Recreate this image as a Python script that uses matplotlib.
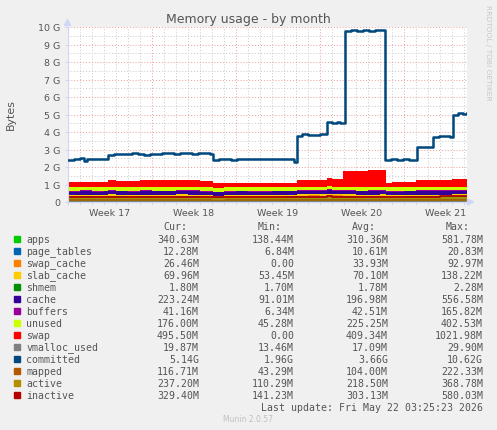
import numpy as np
import matplotlib.pyplot as plt
from matplotlib.patches import Rectangle, Polygon

# time in days since start of week 17
t = [-0.1, 1, 2, 3, 3.3, 4, 5, 6, 7, 8, 9, 10, 11, 12.1, 13, 14, 15, 16, 17, 18,
     19.1, 20, 21, 21.6, 22, 22.9, 24, 25, 26, 26.5, 27, 28, 29, 30, 31, 32, 33.25]

# stacked areas, MiB
apps = [305, 320, 290, 310, 330, 315, 300, 325, 310, 295, 335, 318, 302, 280, 295, 310, 300, 288, 305, 312,
        320, 335, 328, 340, 330, 315, 300, 310, 322, 290, 300, 312, 325, 318, 330, 340, 340]
page_tables = [10, 11, 10, 10, 11, 11, 10, 11, 10, 11, 12, 10, 11, 9, 10, 10, 11, 10, 10, 11,
               11, 12, 11, 12, 11, 11, 10, 11, 11, 10, 10, 11, 11, 12, 12, 12, 12]
swap_cache = [30, 35, 28, 40, 38, 33, 36, 30, 42, 35, 31, 38, 34, 20, 25, 30, 28, 32, 35, 30,
              40, 38, 36, 45, 42, 50, 48, 45, 40, 25, 22, 28, 30, 27, 25, 26, 26]
slab_cache = [70, 71, 69, 72, 70, 71, 70, 69, 72, 70, 71, 70, 70, 68, 69, 70, 70, 71, 69, 70,
              71, 72, 70, 73, 71, 72, 70, 71, 70, 68, 69, 70, 70, 71, 70, 70, 70]
shmem = [1.8, 1.7, 1.8, 1.8, 1.9, 1.8, 1.7, 1.8, 1.8, 1.8, 1.7, 1.8, 1.8, 1.7, 1.8, 1.8, 1.8, 1.9, 1.8, 1.8,
         1.8, 1.7, 1.8, 1.8, 1.8, 1.9, 1.8, 1.8, 1.7, 1.8, 1.8, 1.8, 1.8, 1.8, 1.8, 1.8, 1.8]
cache = [190, 205, 198, 185, 210, 200, 195, 208, 190, 202, 198, 205, 192, 180, 188, 195, 200, 190, 198, 205,
         200, 210, 205, 215, 208, 190, 185, 195, 200, 185, 190, 198, 205, 210, 215, 223, 223]
buffers = [40, 42, 45, 38, 43, 41, 44, 40, 42, 45, 39, 43, 41, 36, 40, 42, 44, 40, 43, 41,
           45, 44, 42, 46, 43, 40, 42, 41, 44, 38, 40, 42, 41, 43, 42, 41, 41]
unused = [220, 210, 235, 225, 200, 215, 225, 210, 220, 230, 205, 212, 225, 245, 235, 225, 230, 240, 225, 215,
          205, 190, 200, 180, 190, 210, 225, 215, 205, 250, 245, 230, 215, 210, 195, 176, 176]
swap = [290, 285, 295, 290, 370, 365, 372, 368, 375, 370, 366, 372, 370, 250, 252, 248, 255, 250, 252, 250,
        390, 392, 388, 470, 472, 945, 960, 955, 950, 270, 272, 268, 370, 372, 368, 450, 495]

# lines, MiB
vmalloc_used = [16, 17, 18, 16, 17, 18, 17, 16, 18, 17, 17, 16, 18, 15, 16, 17, 17, 18, 16, 17,
                18, 17, 19, 18, 17, 18, 17, 16, 18, 16, 17, 17, 18, 19, 18, 20, 20]
mapped = [100, 105, 98, 110, 104, 99, 108, 102, 106, 100, 112, 103, 98, 90, 95, 100, 104, 98, 102, 100,
          108, 110, 105, 112, 108, 104, 100, 106, 102, 95, 98, 104, 110, 112, 115, 117, 117]
active = [210, 222, 215, 230, 218, 212, 225, 208, 220, 228, 215, 222, 210, 195, 205, 212, 218, 210, 220, 215,
          225, 230, 222, 235, 228, 220, 210, 218, 225, 205, 210, 218, 228, 232, 235, 237, 237]
inactive = [295, 310, 300, 318, 305, 298, 312, 300, 308, 315, 302, 310, 298, 270, 285, 295, 300, 290, 305, 298,
            312, 320, 315, 325, 318, 310, 300, 308, 315, 285, 292, 300, 315, 320, 325, 329, 329]

# committed, GiB
committed_t = [-0.1, 0.5, 1.0, 1.3, 1.6, 2.1, 2.6, 3.0,
               3.3, 3.8, 4.3, 4.8, 5.3, 5.8, 6.3, 6.8, 7.3, 7.8, 8.3, 8.8, 9.3, 9.8, 10.3, 10.8, 11.3, 11.8,
               12.1, 12.6, 13.1, 13.6, 14.1, 14.6, 15.1, 15.6, 16.1, 16.6, 17.1, 17.6, 18.1, 18.6, 18.85,
               19.06, 19.5, 20.0, 20.5, 21.0,
               21.6, 22.0, 22.4, 22.7,
               23.1, 23.6, 24.1, 24.6, 25.1, 25.6, 26.0,
               26.4, 26.9, 27.4, 27.9, 28.4, 28.8,
               29.06, 29.6, 30.0,
               30.4, 30.9, 31.4, 31.8,
               32.06, 32.5, 32.9, 33.25]
committed = [2.42, 2.47, 2.50, 2.36, 2.45, 2.48, 2.44, 2.46,
             2.68, 2.74, 2.77, 2.72, 2.78, 2.76, 2.70, 2.73, 2.75, 2.78, 2.80, 2.76, 2.82, 2.78, 2.74, 2.80, 2.78, 2.76,
             2.40, 2.43, 2.46, 2.42, 2.45, 2.44, 2.47, 2.43, 2.45, 2.48, 2.44, 2.46, 2.45, 2.43, 2.30,
             3.75, 3.87, 3.85, 3.82, 3.88,
             4.55, 4.52, 4.58, 4.50,
             9.75, 9.80, 9.78, 9.82, 9.79, 9.84, 9.80,
             2.42, 2.44, 2.40, 2.43, 2.38, 2.42,
             3.12, 3.14, 3.13,
             3.72, 3.77, 3.75, 3.73,
             5.00, 5.10, 5.05, 5.08]

week_labels = ['Week 17', 'Week 18', 'Week 19', 'Week 20', 'Week 21']

legend_names = ['apps', 'page_tables', 'swap_cache', 'slab_cache', 'shmem', 'cache', 'buffers',
                'unused', 'swap', 'vmalloc_used', 'committed', 'mapped', 'active', 'inactive']
legend_colors = ['#00CC00', '#0066B3', '#FF8000', '#FFCC00', '#008F00', '#330099', '#990099',
                 '#CCFF00', '#FF0000', '#808080', '#00487D', '#B35A00', '#B38F00', '#B30000']
cur_vals = ['340.63M', '12.28M', '26.46M', '69.96M', '1.80M', '223.24M', '41.16M',
            '176.00M', '495.50M', '19.87M', '5.14G', '116.71M', '237.20M', '329.40M']
min_vals = ['138.44M', '6.84M', '0.00', '53.45M', '1.70M', '91.01M', '6.34M',
            '45.28M', '0.00', '13.46M', '1.96G', '43.29M', '110.29M', '141.23M']
avg_vals = ['310.36M', '10.61M', '33.93M', '70.10M', '1.78M', '196.98M', '42.51M',
            '225.25M', '409.34M', '17.09M', '3.66G', '104.00M', '218.50M', '303.13M']
max_vals = ['581.78M', '20.83M', '92.97M', '138.22M', '2.28M', '556.58M', '165.82M',
            '402.53M', '1021.98M', '29.90M', '10.62G', '222.33M', '368.78M', '580.03M']

FONT = '#555555'
AXIS = '#CFD6F8'

fig = plt.figure(figsize=(4.97, 4.31), dpi=100, facecolor='#F0F0F0')
ax = fig.add_axes([67.5 / 497, (431 - 203) / 431, (466.7 - 67.5) / 497, 175 / 431])
ax.set_facecolor('white')
ax.set_xlim(-0.04, 33.22)
ax.set_ylim(0, 10)

# grid
for d in range(0, 34):
    ax.axvline(d, color='#EE9A9A' if d % 7 == 0 else '#C8C8C8', ls=(0, (1, 2)), lw=0.7, zorder=0.5)
for g in np.arange(0.5, 10.01, 0.5):
    ax.axhline(g, color='#EE9A9A' if g % 1 == 0 else '#C8C8C8', ls=(0, (1, 2)), lw=0.7, zorder=0.5)

stacked = [(apps, '#00CC00'), (page_tables, '#0066B3'), (swap_cache, '#FF8000'), (slab_cache, '#FFCC00'),
           (shmem, '#008F00'), (cache, '#330099'), (buffers, '#990099'), (unused, '#CCFF00'), (swap, '#FF0000')]
bottom = np.zeros(len(t))
for vals, col in stacked:
    top = bottom + np.array(vals) / 1024
    ax.fill_between(t, bottom, top, step='post', color=col, lw=0, zorder=1)
    bottom = top

for vals, col in [(vmalloc_used, '#808080'), (mapped, '#B35A00'), (active, '#B38F00'), (inactive, '#B30000')]:
    ax.plot(t, np.array(vals) / 1024, drawstyle='steps-post', color=col, lw=1.3, zorder=2)
ax.plot(committed_t, committed, drawstyle='steps-post', color='#00487D', lw=1.8, zorder=3)

ax.set_yticks(range(0, 11))
ax.set_yticklabels(['0'] + ['%d G' % i for i in range(1, 11)])
ax.set_xticks([3.5, 10.5, 17.5, 24.5, 31.5])
ax.set_xticklabels(week_labels)
ax.set_xticks(range(0, 34), minor=True)
ax.tick_params(axis='x', which='major', length=0, pad=4, labelsize=6.8, labelcolor=FONT)
ax.tick_params(axis='x', which='minor', length=2, color='#D4D4D4', direction='out')
ax.tick_params(axis='y', length=2, color=AXIS, pad=3, labelsize=6.8, labelcolor=FONT)
for s in ['top', 'right']:
    ax.spines[s].set_visible(False)
for s in ['left', 'bottom']:
    ax.spines[s].set_color(AXIS)
    ax.spines[s].set_linewidth(0.8)

# overlay in pixel coordinates
ov = fig.add_axes([0, 0, 1, 1])
ov.set_xlim(0, 497)
ov.set_ylim(431, 0)
ov.axis('off')
ov.patch.set_alpha(0)

ov.add_patch(Polygon([(64.5, 26.5), (70.5, 26.5), (67.5, 20.5)], closed=True, color=AXIS))
ov.add_patch(Polygon([(467.5, 200), (467.5, 206), (473.5, 203)], closed=True, color=AXIS))

ov.text(248.3, 19.3, 'Memory usage - by month', ha='center', va='center', fontsize=9, color=FONT)
ov.text(10.5, 114.5, 'Bytes', ha='center', va='center', rotation=90, fontsize=7.9, color=FONT)
ov.text(488, 53, 'RRDTOOL / TOBI OETIKER', ha='center', va='center', rotation=-90,
        fontsize=5.4, color='#C8C8C8')

mono = 'DejaVu Sans Mono'
fs = 7.15
for x, h in zip([187, 282, 376, 470], ['Cur:', 'Min:', 'Avg:', 'Max:']):
    ov.text(x, 227.3, h, ha='right', va='center', family=mono, fontsize=fs, color=FONT)
for i, name in enumerate(legend_names):
    y = 239.7 + 12 * i
    ov.add_patch(Rectangle((14, y - 3), 6, 6, color=legend_colors[i]))
    ov.text(26.3, y, name, ha='left', va='center', family=mono, fontsize=fs, color=FONT)
    ov.text(199, y, cur_vals[i], ha='right', va='center', family=mono, fontsize=fs, color=FONT)
    ov.text(294, y, min_vals[i], ha='right', va='center', family=mono, fontsize=fs, color=FONT)
    ov.text(388, y, avg_vals[i], ha='right', va='center', family=mono, fontsize=fs, color=FONT)
    ov.text(483, y, max_vals[i], ha='right', va='center', family=mono, fontsize=fs, color=FONT)
ov.text(483, 407.7, 'Last update: Fri May 22 03:25:23 2026', ha='right', va='center',
        family=mono, fontsize=fs, color=FONT)
ov.text(248, 420, 'Munin 2.0.57', ha='center', va='center', fontsize=5.5, color='#C0C0C0')

fig.savefig('out.png', dpi=100, facecolor=fig.get_facecolor())
